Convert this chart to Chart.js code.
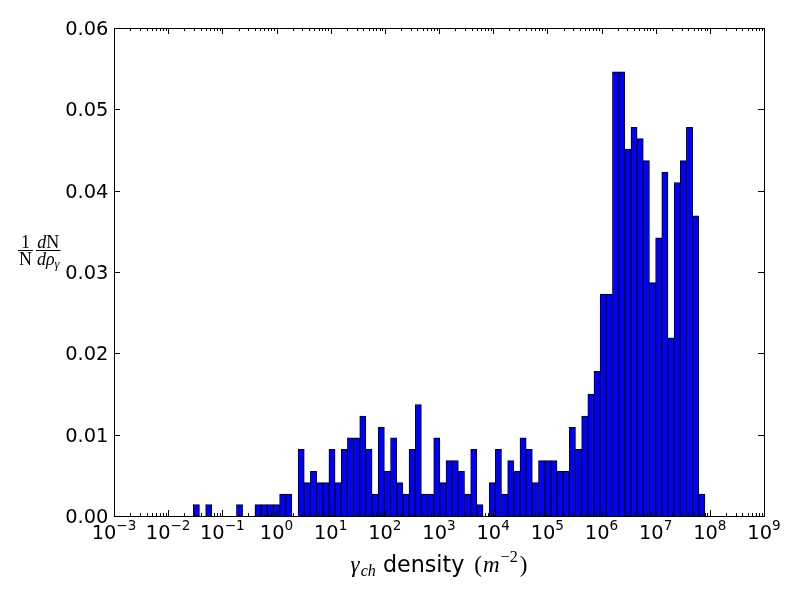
<!DOCTYPE html>
<html>
<head>
<meta charset="utf-8">
<script src="https://cdn.jsdelivr.net/npm/chart.js@4.4.0/dist/chart.umd.min.js"></script>
<style>
  html, body { margin: 0; padding: 0; background: #fff; }
</style>
</head>
<body>
<canvas id="histograma" width="800" height="600"></canvas>
<script>
// bins are equal in log10: first edge and width (decades)
const binStart = -1.536;
const binWidth = 0.1138;

// 1/N dN/drho for each bin, left to right
const densidad = [
  0.0014, 0, 0.0014, 0, 0, 0, 0, 0.0014, 0, 0,
  0.0014, 0.0014, 0.0014, 0.0014, 0.0027, 0.0027, 0, 0.0082, 0.0041, 0.0055,
  0.0041, 0.0041, 0.0082, 0.0041, 0.0082, 0.0096, 0.0096, 0.0123, 0.0082, 0.0027,
  0.0109, 0.0055, 0.0096, 0.0041, 0.0027, 0.0082, 0.0137, 0.0027, 0.0027, 0.0096,
  0.0041, 0.0068, 0.0068, 0.0055, 0.0027, 0.0082, 0.0014, 0, 0.0041, 0.0082,
  0.0027, 0.0068, 0.0055, 0.0096, 0.0082, 0.0041, 0.0068, 0.0068, 0.0068, 0.0055,
  0.0055, 0.0109, 0.0082, 0.0123, 0.0150, 0.0178, 0.0273, 0.0273, 0.0546, 0.0546,
  0.0451, 0.0478, 0.0464, 0.0437, 0.0287, 0.0342, 0.0423, 0.0219, 0.0410, 0.0437,
  0.0478, 0.0369, 0.0027
];

// axis ticks
const xExponentes = [-3, -2, -1, 0, 1, 2, 3, 4, 5, 6, 7, 8, 9];
const yTicks = [0, 0.01, 0.02, 0.03, 0.04, 0.05, 0.06];
const yEtiquetas = ['0.00', '0.01', '0.02', '0.03', '0.04', '0.05', '0.06'];

const SANS = '"DejaVu Sans", sans-serif';
const SERIF = '"Liberation Serif", "DejaVu Serif", serif';
const TICK_PX = 19.4;
const LABEL_PX = 23;

// frame, ticks and tick labels in the matplotlib classic look
const ejes = {
  id: 'ejes',
  afterDatasetsDraw(chart) {
    const ctx = chart.ctx;
    const a = chart.chartArea;
    const sx = chart.scales.x;
    const sy = chart.scales.y;
    const snap = v => Math.round(v) + 0.5;

    ctx.save();
    ctx.strokeStyle = '#000';
    ctx.lineWidth = 1;
    ctx.strokeRect(snap(a.left), snap(a.top), Math.round(a.right - a.left), Math.round(a.bottom - a.top));

    ctx.beginPath();
    // x major + minor ticks, bottom and top, pointing in
    xExponentes.forEach(e => {
      const px = snap(sx.getPixelForValue(e));
      ctx.moveTo(px, a.bottom); ctx.lineTo(px, a.bottom - 6);
      ctx.moveTo(px, a.top); ctx.lineTo(px, a.top + 6);
      if (e < 9) {
        for (let k = 2; k <= 9; k++) {
          const m = snap(sx.getPixelForValue(e + Math.log10(k)));
          ctx.moveTo(m, a.bottom); ctx.lineTo(m, a.bottom - 3);
          ctx.moveTo(m, a.top); ctx.lineTo(m, a.top + 3);
        }
      }
    });
    yTicks.forEach(v => {
      const py = snap(sy.getPixelForValue(v));
      ctx.moveTo(a.left, py); ctx.lineTo(a.left + 6, py);
      ctx.moveTo(a.right, py); ctx.lineTo(a.right - 6, py);
    });
    ctx.stroke();

    ctx.fillStyle = '#000';
    // y tick labels
    ctx.font = TICK_PX + 'px ' + SANS;
    ctx.textAlign = 'right';
    ctx.textBaseline = 'alphabetic';
    yTicks.forEach((v, i) => {
      const py = sy.getPixelForValue(v);
      ctx.fillText(yEtiquetas[i], a.left - 5.6, py + TICK_PX * 0.729 / 2);
    });

    // x tick labels: 10 with a raised exponent
    ctx.textAlign = 'left';
    const base = a.bottom + 23;
    xExponentes.forEach(e => {
      const px = sx.getPixelForValue(e);
      const sup = (e < 0 ? '\u2212' : '') + Math.abs(e);
      ctx.font = TICK_PX + 'px ' + SANS;
      const w1 = ctx.measureText('10').width;
      ctx.font = (TICK_PX * 0.7) + 'px ' + SANS;
      const w2 = ctx.measureText(sup).width;
      const x0 = px - (w1 + w2) / 2;
      ctx.font = TICK_PX + 'px ' + SANS;
      ctx.fillText('10', x0, base);
      ctx.font = (TICK_PX * 0.7) + 'px ' + SANS;
      ctx.fillText(sup, x0 + w1, base - 9);
    });
    ctx.restore();
  }
};

// axis titles with math-style pieces
const titulos = {
  id: 'titulos',
  afterDraw(chart) {
    const ctx = chart.ctx;
    const a = chart.chartArea;
    ctx.save();
    ctx.fillStyle = '#000';
    ctx.textBaseline = 'alphabetic';
    ctx.textAlign = 'left';

    // x title: gamma_ch density (m^-2)
    const L = LABEL_PX;
    const partes = [
      { t: '\u03b3', f: 'italic ' + L + 'px ' + SERIF, dy: 0, gap: 1 },
      { t: 'ch', f: 'italic ' + (L * 0.7) + 'px ' + SERIF, dy: 4, gap: 0 },
      { t: ' density ', f: (LABEL_PX - 0.8) + 'px ' + SANS, dy: 0, gap: 3 },
      { t: '(', f: L + 'px ' + SERIF, dy: 0, gap: 1 },
      { t: 'm', f: 'italic ' + L + 'px ' + SERIF, dy: 0, gap: 1 },
      { t: '\u22122', f: (L * 0.7) + 'px ' + SERIF, dy: -10, gap: 2 },
      { t: ')', f: L + 'px ' + SERIF, dy: 0, gap: 0 }
    ];
    let total = 0;
    partes.forEach(p => { ctx.font = p.f; p.w = ctx.measureText(p.t).width + p.gap; total += p.w; });
    let x = (a.left + a.right) / 2 - total / 2;
    const yb = 572;
    partes.forEach(p => { ctx.font = p.f; ctx.fillText(p.t, x, yb + p.dy); x += p.w; });

    // y title: 1/N dN/drho_gamma, two stacked fractions
    const F = L * 0.78;
    const linea = 250.5;
    const fraccion = (x0, arriba, abajo) => {
      const medir = piezas => piezas.reduce((s, p) => { ctx.font = p.f; p.w = ctx.measureText(p.t).width; return s + p.w; }, 0);
      const wa = medir(arriba);
      const wb = medir(abajo);
      const w = Math.max(wa, wb) + 2;
      let xx = x0 + (w - wa) / 2;
      arriba.forEach(p => { ctx.font = p.f; ctx.fillText(p.t, xx, linea - 3 + (p.dy || 0)); xx += p.w; });
      xx = x0 + (w - wb) / 2;
      abajo.forEach(p => { ctx.font = p.f; ctx.fillText(p.t, xx, linea + 14 + (p.dy || 0)); xx += p.w; });
      ctx.fillRect(x0, linea - 0.5, w, 1);
      return w;
    };
    const up = F + 'px ' + SERIF;
    const it = 'italic ' + F + 'px ' + SERIF;
    let fx = 18;
    fx += fraccion(fx, [{ t: '1', f: up }], [{ t: 'N', f: up }]) + 3;
    fraccion(fx, [{ t: 'd', f: it }, { t: 'N', f: up }],
      [{ t: 'd\u03c1', f: it }, { t: '\u03b3', f: 'italic ' + (F * 0.7) + 'px ' + SERIF, dy: 3 }]);
    ctx.restore();
  }
};

new Chart(document.getElementById('histograma').getContext('2d'), {
  type: 'bar',
  data: {
    datasets: [{
      data: densidad.map((v, i) => ({ x: binStart + (i + 0.5) * binWidth, y: v })),
      backgroundColor: '#0000ff',
      borderColor: '#000000',
      borderWidth: 1,
      barPercentage: 1,
      categoryPercentage: 1
    }]
  },
  options: {
    responsive: false,
    animation: false,
    devicePixelRatio: 1,
    layout: { padding: { left: 114, top: 28, right: 36, bottom: 84 } },
    plugins: { legend: { display: false }, tooltip: { enabled: false } },
    scales: {
      x: { type: 'linear', min: -3, max: 9, offset: false, display: false },
      y: { type: 'linear', min: 0, max: 0.06, display: false }
    }
  },
  plugins: [ejes, titulos]
});
</script>
</body>
</html>
